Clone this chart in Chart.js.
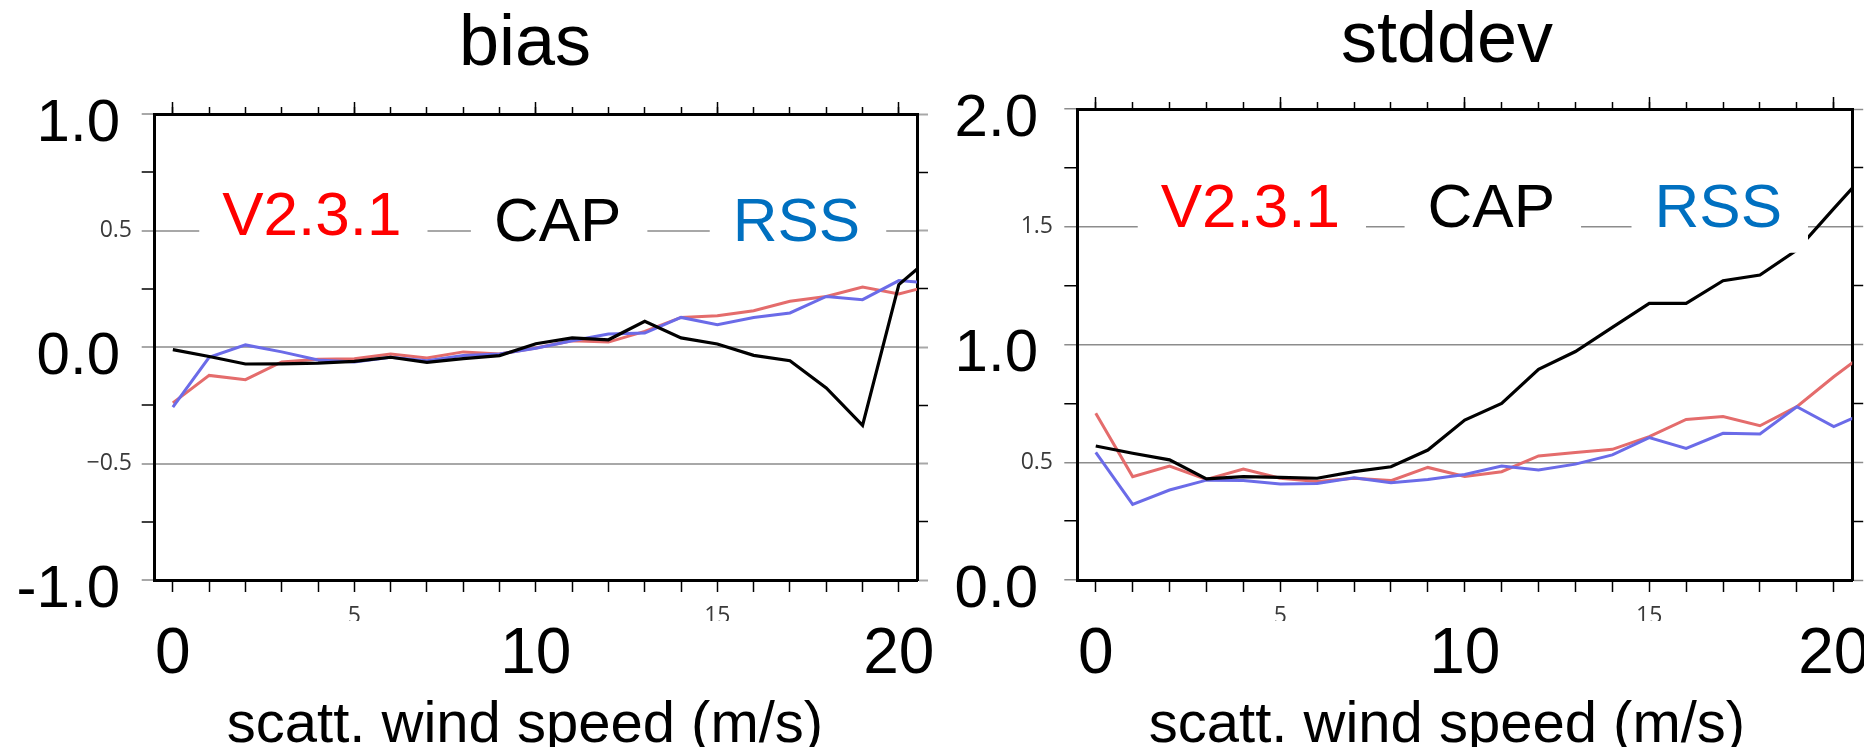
<!DOCTYPE html>
<html>
<head>
<meta charset="utf-8">
<script src="https://cdn.jsdelivr.net/npm/chart.js@4.4.1/dist/chart.umd.min.js"></script>
<style>
  html, body { margin: 0; padding: 0; background: #fff; }
  #wrap { position: relative; width: 1864px; height: 747px; overflow: hidden; }
  canvas { position: absolute; top: 0; }
</style>
</head>
<body>
<div id="wrap">
  <canvas id="biasChart" width="940" height="747" style="left:0"></canvas>
  <canvas id="stddevChart" width="924" height="747" style="left:940px"></canvas>
</div>
<script>
// wind speed bins (m/s); the 21 bin sits past the frame and gets clipped
var windSpeed = [0, 1, 2, 3, 4, 5, 6, 7, 8, 9, 10, 11, 12, 13, 14, 15, 16, 17, 18, 19, 20, 21];
var seriesLabels = ['V2.3.1', 'CAP', 'RSS'];

var biasV231 = [-0.24, -0.122, -0.140, -0.064, -0.053, -0.050, -0.030, -0.047, -0.021, -0.030, -0.004,
                0.027, 0.021, 0.067, 0.127, 0.134, 0.156, 0.196, 0.217, 0.257, 0.228, 0.268];
var biasCAP  = [-0.011, -0.041, -0.073, -0.072, -0.069, -0.062, -0.044, -0.066, -0.050, -0.037, 0.014,
                0.039, 0.031, 0.110, 0.039, 0.013, -0.036, -0.059, -0.176, -0.336, 0.268, 0.40];
var biasRSS  = [-0.258, -0.044, 0.009, -0.021, -0.056, -0.064, -0.044, -0.059, -0.036, -0.030, -0.005,
                0.027, 0.056, 0.060, 0.127, 0.096, 0.127, 0.146, 0.217, 0.203, 0.285, 0.273];

var stddevV231 = [0.708, 0.439, 0.484, 0.427, 0.471, 0.432, 0.418, 0.432, 0.422, 0.478, 0.440,
                  0.460, 0.527, 0.541, 0.555, 0.609, 0.682, 0.694, 0.655, 0.736, 0.863, 0.98];
var stddevCAP  = [0.569, 0.538, 0.510, 0.429, 0.439, 0.436, 0.432, 0.460, 0.481, 0.552, 0.679,
                  0.750, 0.895, 0.970, 1.073, 1.175, 1.175, 1.271, 1.295, 1.401, 1.577, 1.75];
var stddevRSS  = [0.542, 0.321, 0.382, 0.424, 0.422, 0.408, 0.410, 0.434, 0.413, 0.427, 0.448,
                  0.484, 0.467, 0.492, 0.531, 0.605, 0.559, 0.623, 0.620, 0.736, 0.651, 0.72];

// tick positions and labels
var xMinorTicks = [0, 1, 2, 3, 4, 5, 6, 7, 8, 9, 10, 11, 12, 13, 14, 15, 16, 17, 18, 19, 20];
var xMajorTicks = [0, 5, 10, 15, 20];
var xSmallTickValues = [5, 15];
var xSmallTickLabels = ['5', '15'];
var xBigTickValues = [0, 10, 20];
var xBigTickLabels = ['0', '10', '20'];
var biasSmallTickValues = [-0.5, 0.5];
var biasSmallTickLabels = ['\u22120.5', '0.5'];
var biasBigTickValues = [-1, 0, 1];
var biasBigTickLabels = ['-1.0', '0.0', '1.0'];
var stddevSmallTickValues = [0.5, 1.5];
var stddevSmallTickLabels = ['0.5', '1.5'];
var stddevBigTickValues = [0, 1, 2];
var stddevBigTickLabels = ['0.0', '1.0', '2.0'];

var ARIAL = '"Liberation Sans", Arial, sans-serif';
var SMALL = '"Open Sans", "Liberation Sans", sans-serif';
var lineColors = ['#e46c6c', '#000000', '#6b6be8'];
var legendColors = ['#ff0000', '#000000', '#0070c0'];

var measureCtx = document.createElement('canvas').getContext('2d');
function widestLabel(labels, font) {
    measureCtx.font = font;
    return Math.max.apply(null, labels.map(function (l) { return measureCtx.measureText(l).width; }));
}
function isHalf(v) {
    return Math.abs(v * 2 - Math.round(v * 2)) < 1e-9;
}
function lookup(values, labels) {
    return function (v) {
        var i = values.indexOf(v);
        return i >= 0 ? labels[i] : '';
    };
}
function setTicks(values) {
    return function (axis) {
        axis.ticks = values.map(function (v) { return { value: v }; });
    };
}
function fixSize(prop, size) {
    return function (axis) {
        axis[prop] = size;
        axis.paddingLeft = axis.paddingRight = axis.paddingTop = axis.paddingBottom = 0;
    };
}

// series names written inside the plot, on white patches
function legendPlugin(anchors) {
    return {
        id: 'innerLegend',
        afterDatasetsDraw: function (chart) {
            var ctx = chart.ctx;
            var xs = chart.scales.x, ys = chart.scales.y;
            ctx.save();
            ctx.font = '62px ' + ARIAL;
            ctx.textAlign = 'center';
            ctx.textBaseline = 'alphabetic';
            chart.data.datasets.forEach(function (ds, i) {
                var cx = xs.getPixelForValue(anchors[i][0]);
                var by = ys.getPixelForValue(anchors[i][1]);
                var w = ctx.measureText(ds.label).width;
                ctx.fillStyle = '#ffffff';
                ctx.fillRect(cx - w / 2 - 23, by - 72, w + 49, 98);
                ctx.fillStyle = legendColors[i];
                ctx.fillText(ds.label, cx, by);
            });
            ctx.restore();
        }
    };
}

function makeChart(canvasId, p) {
    var datasets = p.series.map(function (s, i) {
        return {
            label: seriesLabels[i],
            data: windSpeed.map(function (x, k) { return { x: x, y: s[k] }; }),
            borderColor: lineColors[i],
            borderWidth: i === 1 ? 3.2 : 3,
            pointRadius: 0,
            tension: 0,
            clip: 0,
            order: [2, 0, 1][i],
            xAxisID: 'x',
            yAxisID: 'y'
        };
    });
    var tickCol = function (c) { return isHalf(c.tick.value) ? p.gridColor : '#000'; };
    var tickW = function (c) { return isHalf(c.tick.value) ? p.gridWidth : 1.5; };

    // y labels are mirrored (not clipped) and right-aligned at chosen x positions
    var chartLeft = p.padLeft + p.yWidth;
    var smallPad = p.smallRight - chartLeft - widestLabel(p.smallLabels, '23px ' + SMALL);
    var bigPad = p.bigRight - p.padLeft - widestLabel(p.bigLabels, '60px ' + ARIAL);

    return new Chart(document.getElementById(canvasId), {
        type: 'line',
        data: { datasets: datasets },
        plugins: [legendPlugin(p.anchors)],
        options: {
            responsive: false,
            animation: false,
            events: [],
            layout: { autoPadding: false, padding: { left: p.padLeft, right: 0, top: 0, bottom: 0 } },
            plugins: {
                legend: { display: false },
                tooltip: { enabled: false },
                title: {
                    display: true,
                    text: p.title,
                    color: '#000',
                    font: { family: ARIAL, size: 72, weight: 'normal', lineHeight: 1 },
                    padding: { top: p.titleTop, bottom: 0 }
                },
                subtitle: {
                    display: true,
                    position: 'bottom',
                    text: 'scatt. wind speed (m/s)',
                    color: '#000',
                    font: { family: ARIAL, size: 58, weight: 'normal', lineHeight: 1 },
                    padding: { top: 0, bottom: -8 }
                }
            },
            scales: {
                x: {
                    type: 'linear', position: 'bottom', weight: 0, min: -0.5, max: 20.5,
                    afterBuildTicks: setTicks(xMinorTicks),
                    ticks: {
                        autoSkip: false, maxRotation: 0, padding: 11, color: '#3a3a3a',
                        font: { family: SMALL, size: 23 },
                        callback: lookup(xSmallTickValues, xSmallTickLabels)
                    },
                    grid: { drawOnChartArea: false, tickLength: 12, tickColor: '#000', tickWidth: 1.5 },
                    border: { color: '#000', width: 3 },
                    afterFit: fixSize('height', 41)
                },
                xBig: {
                    type: 'linear', position: 'bottom', weight: 1, min: -0.5, max: 20.5,
                    afterBuildTicks: setTicks(xBigTickValues),
                    ticks: {
                        autoSkip: false, maxRotation: 0, padding: -4, color: '#000',
                        font: { family: ARIAL, size: 64 },
                        callback: function (v, i) { return xBigTickLabels[i]; }
                    },
                    grid: { display: false, drawTicks: false },
                    border: { display: false },
                    afterFit: fixSize('height', 76)
                },
                xTop: {
                    type: 'linear', position: 'top', weight: 0, min: -0.5, max: 20.5,
                    afterBuildTicks: setTicks(xMinorTicks),
                    ticks: { display: false },
                    grid: { drawOnChartArea: false, tickLength: 7, tickColor: '#000', tickWidth: 1.5 },
                    border: { color: '#000', width: 3 },
                    afterFit: fixSize('height', 0)
                },
                xTopMajor: {
                    type: 'linear', position: 'top', weight: 1, min: -0.5, max: 20.5,
                    afterBuildTicks: setTicks(xMajorTicks),
                    ticks: { display: false },
                    grid: { drawOnChartArea: false, tickLength: 12, tickColor: '#000', tickWidth: 1.5 },
                    border: { display: false },
                    afterFit: fixSize('height', p.topHeight)
                },
                y: {
                    type: 'linear', position: 'left', weight: 0, min: p.yMin, max: p.yMax,
                    ticks: {
                        stepSize: 0.25, autoSkip: false, mirror: true, crossAlign: 'far',
                        padding: smallPad, color: '#3a3a3a',
                        font: { family: SMALL, size: 23 },
                        callback: lookup(p.smallValues, p.smallLabels)
                    },
                    grid: {
                        color: function (c) { return isHalf(c.tick.value) ? p.gridColor : 'rgba(0,0,0,0)'; },
                        lineWidth: p.gridWidth,
                        tickLength: 13, tickColor: tickCol, tickWidth: tickW
                    },
                    border: { color: '#000', width: 3 },
                    afterFit: fixSize('width', p.yWidth)
                },
                yBig: {
                    type: 'linear', position: 'left', weight: 1, min: p.yMin, max: p.yMax,
                    afterBuildTicks: setTicks(p.bigValues),
                    ticks: {
                        autoSkip: false, mirror: true, crossAlign: 'far',
                        padding: bigPad, color: '#000',
                        // blank first line nudges each label ~10px below its tick, as in the source
                        font: { family: ARIAL, size: 60, lineHeight: '20px' },
                        callback: function (v, i) { return ['', p.bigLabels[i]]; }
                    },
                    grid: { display: false, drawTicks: false },
                    border: { display: false },
                    afterFit: fixSize('width', 0)
                },
                y2: {
                    type: 'linear', position: 'right', weight: 0, min: p.yMin, max: p.yMax,
                    ticks: { display: false, stepSize: 0.25, autoSkip: false },
                    grid: { drawOnChartArea: false, tickLength: 11, tickColor: tickCol, tickWidth: tickW },
                    border: { color: '#000', width: 3 },
                    afterFit: fixSize('width', p.rightWidth)
                }
            }
        }
    });
}

makeChart('biasChart', {
    title: 'bias',
    series: [biasV231, biasCAP, biasRSS],
    yMin: -1, yMax: 1,
    smallValues: biasSmallTickValues, smallLabels: biasSmallTickLabels,
    bigValues: biasBigTickValues, bigLabels: biasBigTickLabels,
    anchors: [[3.83, 0.482], [10.60, 0.453], [17.18, 0.453]],
    gridColor: '#a8a8a8', gridWidth: 2,
    padLeft: 110, yWidth: 44.7, rightWidth: 23,
    smallRight: 132, bigRight: 120,
    titleTop: 9, topHeight: 33
});

makeChart('stddevChart', {
    title: 'stddev',
    series: [stddevV231, stddevCAP, stddevRSS],
    yMin: 0, yMax: 2,
    smallValues: stddevSmallTickValues, smallLabels: stddevSmallTickLabels,
    bigValues: stddevBigTickValues, bigLabels: stddevBigTickLabels,
    anchors: [[4.19, 1.50], [10.72, 1.50], [16.87, 1.50]],
    gridColor: '#8c8c8c', gridWidth: 1.5,
    padLeft: 90, yWidth: 47.3, rightWidth: 11.8,
    smallRight: 113, bigRight: 98,
    titleTop: 6, topHeight: 31
});
</script>
</body>
</html>
